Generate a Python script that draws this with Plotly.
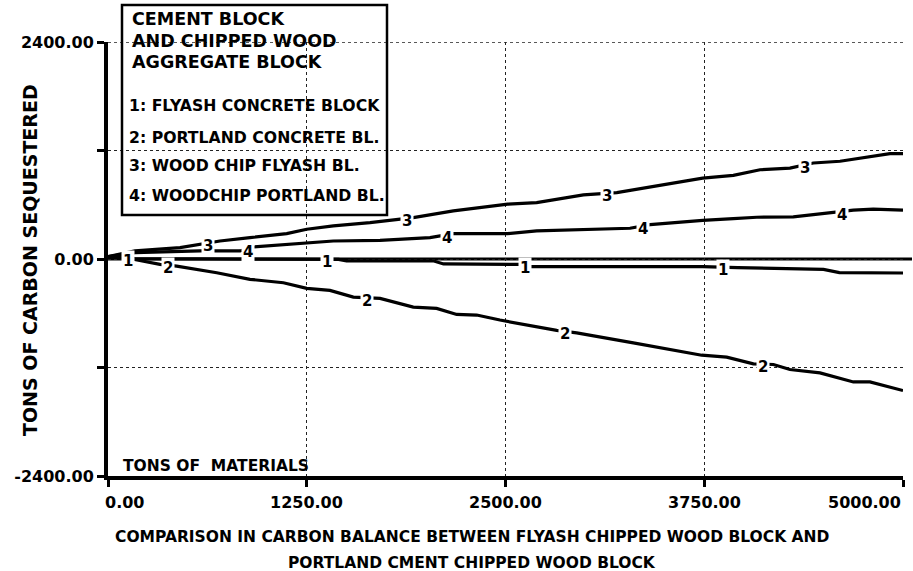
import numpy as np
import plotly.graph_objects as go

# ---------------- data ----------------
x_ticks = [0, 1250, 2500, 3750, 5000]
x_tick_labels = ["0.00", "1250.00", "2500.00", "3750.00", "5000.00"]
y_ticks = [-2400, -1200, 0, 1200, 2400]
y_tick_labels = ["-2400.00", "", "0.00", "", "2400.00"]

# 1: Flyash concrete block
x1 = [0, 170, 1450, 1500, 2050, 2110, 2600, 2660, 3740, 3800, 3960, 4500, 4600, 5000]
y1 = [25, 5, -5, -20, -22, -55, -60, -85, -85, -90, -95, -115, -150, -155]

# 2: Portland concrete block
x2 = [0, 159, 327, 432, 684, 893, 1103, 1250, 1396, 1543, 1711, 1920, 2067, 2193,
      2319, 2465, 2822, 2948, 3304, 3734, 3891, 4059, 4185, 4289, 4478, 4688, 4792, 5000]
y2 = [25, -3, -59, -78, -152, -225, -263, -325, -347, -421, -435, -532, -546, -613,
      -620, -675, -790, -817, -927, -1064, -1086, -1160, -1167, -1222, -1260, -1360, -1360, -1455]

# 3: Wood chip flyash block
x3 = [0, 170, 453, 704, 893, 1124, 1250, 1417, 1648, 1920, 2172, 2514, 2696, 2990,
      3200, 3409, 3556, 3740, 3933, 4101, 4289, 4436, 4604, 4813, 4918, 5000]
y3 = [25, 89, 125, 199, 236, 280, 329, 366, 402, 458, 532, 606, 624, 709,
      735, 798, 839, 895, 925, 987, 1006, 1062, 1081, 1137, 1165, 1165]

# 4: Woodchip portland block
x4 = [0, 170, 579, 830, 913, 1124, 1250, 1417, 1711, 2025, 2172, 2514, 2696, 2990,
      3283, 3409, 3556, 3740, 3933, 4080, 4310, 4520, 4688, 4813, 5000]
y4 = [25, 70, 89, 89, 133, 163, 181, 199, 207, 236, 280, 280, 310, 329,
      340, 380, 403, 428, 447, 462, 466, 503, 540, 551, 540]

series_names = ["1", "2", "3", "4"]
label_x = [
    [126, 1375, 2623, 3868],
    [377, 1627, 2874, 4121],
    [630, 1879, 3136, 4384],
    [880, 2130, 3366, 4614],
]

legend_title = ["CEMENT BLOCK", "AND CHIPPED WOOD", "AGGREGATE BLOCK"]
legend_items = ["1: FLYASH CONCRETE BLOCK", "2: PORTLAND CONCRETE BL.",
                "3: WOOD CHIP FLYASH BL.", "4: WOODCHIP PORTLAND BL."]
y_title = "TONS OF CARBON SEQUESTERED"
x_title = ["COMPARISON IN CARBON BALANCE BETWEEN FLYASH CHIPPED WOOD BLOCK AND",
           "PORTLAND CMENT CHIPPED WOOD BLOCK"]
corner_note = "TONS OF\u00a0 MATERIALS"

# ---------------- layout helpers ----------------
W, H = 913, 571
L, R, T, B = 108, 10, 42, 95
PW, PH = W - L - R, H - T - B


def pxx(p):
    return (p - L) / PW


def pxy(p):
    return (H - B - p) / PH


BOLD = "DejaVu Sans"
GRID = "#222"
fig = go.Figure()

xs = [x1, x2, x3, x4]
ys = [y1, y2, y3, y4]
for name, xv, yv in zip(series_names, xs, ys):
    fig.add_trace(go.Scatter(x=xv, y=yv, mode="lines", name=name,
                             line=dict(color="black", width=3.2), showlegend=False,
                             hoverinfo="skip", cliponaxis=False))

annotations = []
# in-line series labels
for name, xv, yv, lx in zip(series_names, xs, ys, label_x):
    for xl in lx:
        annotations.append(dict(x=xl, y=float(np.interp(xl, xv, yv)), xref="x", yref="y",
                                text=f"<b>{name}</b>", showarrow=False, yshift=-3,
                                font=dict(family=BOLD, size=15, color="black"),
                                bgcolor="white", borderpad=1))

# x tick labels
for i, (tv, tl) in enumerate(zip(x_ticks, x_tick_labels)):
    anchor = "left" if i == 0 else ("right" if i == len(x_ticks) - 1 else "center")
    annotations.append(dict(x=tv, y=pxy(502), xref="x", yref="paper", text=f"<b>{tl}</b>",
                            showarrow=False, xanchor=anchor, yanchor="middle",
                            xshift=-5 if i == 0 else 0,
                            font=dict(family=BOLD, size=16, color="black")))

# x axis title (two lines)
for txt, yy in zip(x_title, [537, 563]):
    annotations.append(dict(x=pxx(472), y=pxy(yy), xref="paper", yref="paper",
                            text=f"<b>{txt}</b>", showarrow=False, xanchor="center",
                            yanchor="middle", font=dict(family=BOLD, size=15.5, color="black")))

# y axis title
annotations.append(dict(x=pxx(30), y=pxy(260), xref="paper", yref="paper",
                        text=f"<b>{y_title}</b>", showarrow=False, textangle=-90,
                        xanchor="center", yanchor="middle",
                        font=dict(family=BOLD, size=19, color="black")))

# corner note
annotations.append(dict(x=pxx(121), y=pxy(466), xref="paper", yref="paper",
                        text=f"<b>{corner_note}</b>", showarrow=False, xanchor="left",
                        yanchor="middle", font=dict(family=BOLD, size=15.5, color="black")))

# legend box text
for txt, yy in zip(legend_title, [19, 41, 62]):
    annotations.append(dict(x=pxx(130), y=pxy(yy), xref="paper", yref="paper",
                            text=f"<b>{txt}</b>", showarrow=False, xanchor="left",
                            yanchor="middle", font=dict(family=BOLD, size=17.5, color="black")))
for txt, yy in zip(legend_items, [105, 137, 165, 195]):
    annotations.append(dict(x=pxx(127), y=pxy(yy), xref="paper", yref="paper",
                            text=f"<b>{txt}</b>", showarrow=False, xanchor="left",
                            yanchor="middle", font=dict(family=BOLD, size=15.7, color="black")))

shapes = [
    # zero line extending a little past the right edge
    dict(type="line", xref="paper", yref="y", x0=0, x1=pxx(912), y0=0, y1=0,
         line=dict(color="black", width=3), layer="below"),
    # top dotted grid line at the upper range limit
    dict(type="line", xref="x", yref="y", x0=x_ticks[0], x1=x_ticks[-1],
         y0=y_ticks[-1], y1=y_ticks[-1], line=dict(color=GRID, width=1.3, dash="dot"),
         layer="below"),
    # legend box (transparent, grid shows through)
    dict(type="rect", xref="paper", yref="paper", x0=pxx(122), x1=pxx(387),
         y0=pxy(215), y1=pxy(5), line=dict(color="black", width=2.5),
         fillcolor="rgba(0,0,0,0)", layer="above"),
]

fig.update_layout(
    width=W, height=H,
    margin=dict(l=L, r=R, t=T, b=B, autoexpand=False),
    paper_bgcolor="white", plot_bgcolor="white",
    annotations=annotations, shapes=shapes,
    font=dict(family=BOLD, color="black"),
    hovermode=False,
)

fig.update_xaxes(range=[0, 5000], tickvals=x_ticks, showticklabels=False,
                 ticks="outside", ticklen=7, tickwidth=3, tickcolor="black",
                 showline=True, linecolor="black", linewidth=4,
                 showgrid=True, gridcolor=GRID, gridwidth=1.3, griddash="dot",
                 zeroline=False, fixedrange=True)
fig.update_yaxes(range=[-2400, 2400], tickvals=y_ticks, ticktext=y_tick_labels,
                 ticks="outside", ticklen=7, tickwidth=3, tickcolor="black",
                 tickfont=dict(family=BOLD, size=16, color="black", weight="bold"),
                 showline=True, linecolor="black", linewidth=4,
                 showgrid=True, gridcolor=GRID, gridwidth=1.3, griddash="dot",
                 zeroline=False, fixedrange=True)

fig.write_html("out.html", config={"displayModeBar": False},
               post_script="document.body.style.margin='0px';document.body.style.padding='0px';")
